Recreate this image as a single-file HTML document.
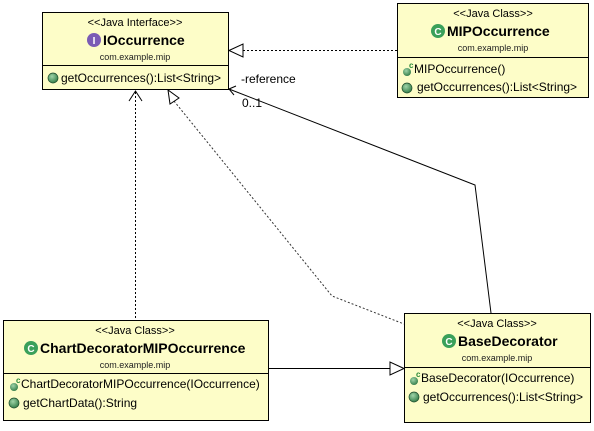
<!DOCTYPE html>
<html><head><style>
body{margin:0;width:594px;height:426px;background:#fff;overflow:hidden;font-family:"Liberation Sans",Arial,sans-serif}
</style></head><body>
<svg width="594" height="426" xmlns="http://www.w3.org/2000/svg" font-family="Liberation Sans, Arial, sans-serif">
<defs>
<radialGradient id="g" cx="40%" cy="35%" r="70%"><stop offset="0" stop-color="#9fd4a8"/><stop offset="1" stop-color="#2f7a45"/></radialGradient>
</defs>
<g fill="#fdfdc8" stroke="#000" stroke-width="1">
<rect x="42.5" y="12.5" width="186" height="77"/>
<rect x="397.5" y="3.5" width="191" height="94"/>
<rect x="3.5" y="320.5" width="265" height="100"/>
<rect x="404.5" y="313.5" width="186" height="109"/>
</g>
<g stroke="#000">
<line x1="42" y1="65.5" x2="229" y2="65.5"/>
<line x1="397" y1="57.5" x2="589" y2="57.5"/>
<line x1="3" y1="373.5" x2="269" y2="373.5"/>
<line x1="404" y1="367.5" x2="591" y2="367.5"/>
</g>
<g fill="none" stroke="#000" stroke-width="1">
<line x1="243" y1="50.5" x2="397" y2="50.5" stroke-dasharray="2,2"/>
<polygon points="229,50.5 243,44 243,57" fill="#fff"/>
<line x1="135.5" y1="92" x2="135.5" y2="320" stroke-dasharray="2,2"/>
<polyline points="129,101 135.5,91 142,101"/>
<polyline points="174,101 332,296 404,324" stroke-dasharray="2,2" stroke="#333"/>
<polygon points="168,90 170,104 179,98" fill="#fff"/>
<polyline points="229,89 475,185 491,313"/>
<polyline points="236,86 229,89 234,95"/>
<line x1="268" y1="368.5" x2="390" y2="368.5"/>
<polygon points="404,368.5 390,362 390,375" fill="#fff"/>
</g>
<text x="241" y="83" font-size="12">-reference</text>
<text x="242" y="107" font-size="12">0..1</text>
<text x="135" y="26" font-size="11" text-anchor="middle">&lt;&lt;Java Interface&gt;&gt;</text>
<circle cx="94" cy="40" r="7" fill="#7a5bb5"/><text x="94" y="44" font-size="10" fill="#fff" text-anchor="middle" font-weight="bold">I</text>
<text x="103" y="45" font-size="14" font-weight="bold">IOccurrence</text>
<text x="135" y="60" font-size="9" text-anchor="middle" fill="#222">com.example.mip</text>
<circle cx="53" cy="78" r="5" fill="url(#g)" stroke="#1c4a2a" stroke-width="0.7"/>
<text x="61" y="82" font-size="12">getOccurrences():List&lt;String&gt;</text>
<text x="493" y="17" font-size="11" text-anchor="middle">&lt;&lt;Java Class&gt;&gt;</text>
<circle cx="438" cy="31" r="7" fill="#3aa05a"/><text x="438" y="35" font-size="10" fill="#fff" text-anchor="middle" font-weight="bold">C</text>
<text x="447" y="36" font-size="14" font-weight="bold">MIPOccurrence</text>
<text x="493" y="51" font-size="9" text-anchor="middle" fill="#222">com.example.mip</text>
<circle cx="407" cy="72" r="4" fill="url(#g)"/><text x="409" y="68" font-size="8" fill="#2a8a3a" font-weight="bold">c</text>
<text x="414" y="73" font-size="12">MIPOccurrence()</text>
<circle cx="407" cy="88" r="5" fill="url(#g)" stroke="#1c4a2a" stroke-width="0.7"/>
<text x="417" y="91" font-size="12">getOccurrences():List&lt;String&gt;</text>
<text x="135" y="334" font-size="11" text-anchor="middle">&lt;&lt;Java Class&gt;&gt;</text>
<circle cx="31" cy="348" r="7" fill="#3aa05a"/><text x="31" y="352" font-size="10" fill="#fff" text-anchor="middle" font-weight="bold">C</text>
<text x="40" y="353" font-size="14" font-weight="bold">ChartDecoratorMIPOccurrence</text>
<text x="135" y="368" font-size="9" text-anchor="middle" fill="#222">com.example.mip</text>
<circle cx="14" cy="387" r="4" fill="url(#g)"/><text x="16" y="383" font-size="8" fill="#2a8a3a" font-weight="bold">c</text>
<text x="21" y="388" font-size="12">ChartDecoratorMIPOccurrence(IOccurrence)</text>
<circle cx="14" cy="403" r="5" fill="url(#g)" stroke="#1c4a2a" stroke-width="0.7"/>
<text x="23" y="407" font-size="12">getChartData():String</text>
<text x="497" y="327" font-size="11" text-anchor="middle">&lt;&lt;Java Class&gt;&gt;</text>
<circle cx="449" cy="341" r="7" fill="#3aa05a"/><text x="449" y="345" font-size="10" fill="#fff" text-anchor="middle" font-weight="bold">C</text>
<text x="458" y="346" font-size="14" font-weight="bold">BaseDecorator</text>
<text x="497" y="361" font-size="9" text-anchor="middle" fill="#222">com.example.mip</text>
<circle cx="414" cy="381" r="4" fill="url(#g)"/><text x="416" y="377" font-size="8" fill="#2a8a3a" font-weight="bold">c</text>
<text x="421" y="382" font-size="12">BaseDecorator(IOccurrence)</text>
<circle cx="414" cy="397" r="5" fill="url(#g)" stroke="#1c4a2a" stroke-width="0.7"/>
<text x="423" y="401" font-size="12">getOccurrences():List&lt;String&gt;</text>
</svg>
</body></html>
